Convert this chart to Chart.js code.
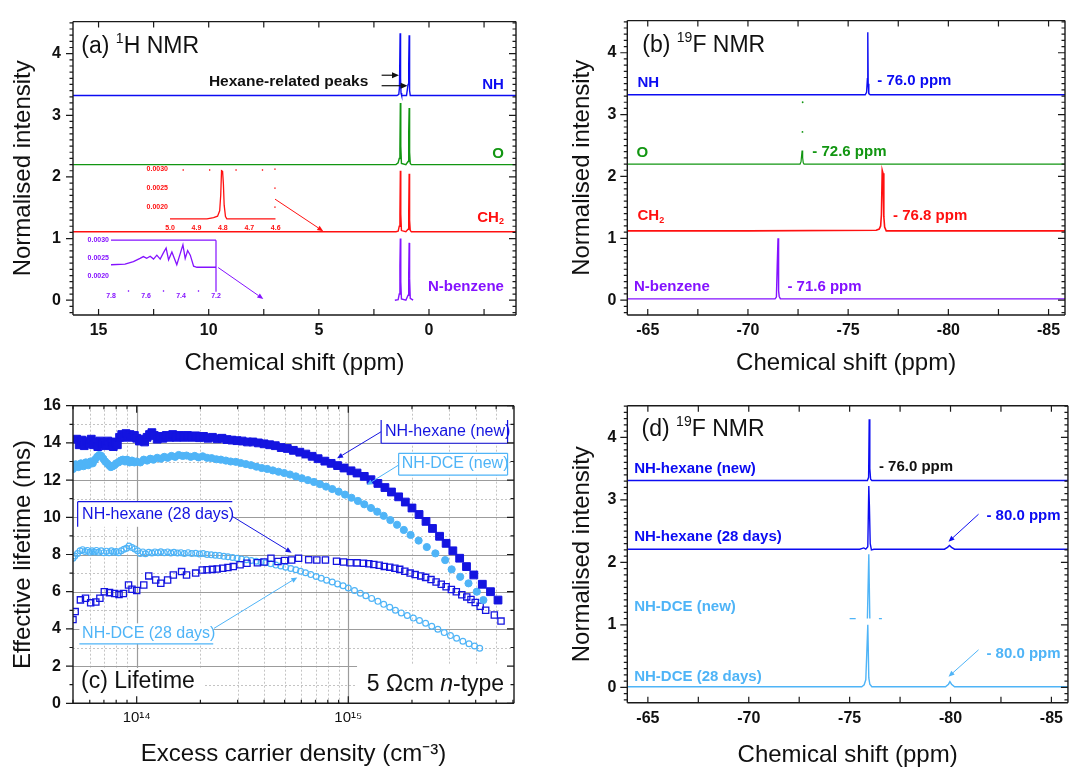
<!DOCTYPE html>
<html>
<head>
<meta charset="utf-8">
<script src="https://cdn.jsdelivr.net/npm/chart.js@4.4.1/dist/chart.umd.min.js"></script>
<style>
  html, body { margin: 0; padding: 0; background: #fff; }
  body { position: relative; width: 1069px; height: 770px; overflow: hidden; }
  canvas { position: absolute; }
</style>
</head>
<body>
<canvas id="pa" width="530" height="380" style="left:0;top:0"></canvas>
<canvas id="pb" width="539" height="380" style="left:530px;top:0"></canvas>
<canvas id="pc" width="530" height="390" style="left:0;top:380px"></canvas>
<canvas id="pd" width="539" height="390" style="left:530px;top:380px"></canvas>
<canvas id="ia"></canvas>
<canvas id="ib"></canvas>
<script>
// ---- tick labels ----
const nmrYTicks = [0, 1, 2, 3, 4];
const hShiftTicks = [15, 10, 5, 0];
const fShiftTicks = [-65, -70, -75, -80, -85];
const lifeTicks = [0, 2, 4, 6, 8, 10, 12, 14, 16];
const densTicks = [1e14, 1e15];
const densTickLabels = ['10¹⁴', '10¹⁵'];
const insetCH2XTicks = [5.0, 4.9, 4.8, 4.7, 4.6];
const insetNBXTicks = [7.8, 7.6, 7.4, 7.2];
const insetYTicks = [0.002, 0.0025, 0.003];

// ---- (a) 1H NMR, offset traces ----
const hNH_ppm = [16.2, 1.45, 1.37, 1.34, 1.31, 1.29, 1.27, 1.24, 1.02, 0.95, 0.92, 0.9, 0.88, 0.85, -4];
const hNH_int = [3.32, 3.32, 3.34, 3.45, 4.33, 3.6, 3.36, 3.32, 3.32, 3.5, 3.85, 4.3, 3.4, 3.32, 3.32];
const hO_ppm = [16.2, 1.5, 1.4, 1.35, 1.32, 1.3, 1.28, 1.25, 1.05, 0.95, 0.92, 0.9, 0.88, 0.85, 0.8, -4];
const hO_int = [2.2, 2.2, 2.23, 2.3, 2.45, 3.2, 2.5, 2.22, 2.2, 2.25, 2.75, 3.12, 2.4, 2.22, 2.2, 2.2];
const hCH2_ppm = [16.2, 1.5, 1.4, 1.35, 1.32, 1.3, 1.28, 1.25, 1.05, 0.95, 0.92, 0.9, 0.88, 0.85, 0.8, -4];
const hCH2_int = [1.11, 1.11, 1.12, 1.2, 1.38, 2.1, 1.4, 1.13, 1.11, 1.15, 1.45, 2.05, 1.3, 1.13, 1.11, 1.11];
const hNB_ppm = [1.55, 1.4, 1.35, 1.32, 1.3, 1.28, 1.25, 1.05, 0.95, 0.92, 0.9, 0.88, 0.85, 0.72];
const hNB_int = [0, 0.01, 0.1, 0.55, 1.0, 0.3, 0.02, 0, 0.08, 0.45, 0.93, 0.35, 0.03, 0];
// insets
const insetCH2_ppm = [5.0, 4.86, 4.835, 4.82, 4.812, 4.808, 4.805, 4.801, 4.798, 4.795, 4.79, 4.785, 4.6];
const insetCH2_int = [0.00169, 0.00169, 0.00172, 0.00176, 0.0019, 0.00232, 0.00296, 0.00294, 0.00262, 0.00205, 0.00175, 0.00169, 0.00169];
const insetNB_ppm = [7.8, 7.72, 7.672, 7.634, 7.615, 7.596, 7.576, 7.557, 7.538, 7.519, 7.5, 7.485, 7.471, 7.452, 7.424, 7.404, 7.389, 7.376, 7.362, 7.347, 7.328, 7.309, 7.2];
const insetNB_int = [0.00231, 0.00233, 0.0024, 0.00249, 0.00254, 0.00249, 0.00255, 0.00247, 0.00258, 0.00247, 0.00265, 0.00278, 0.00245, 0.00267, 0.00231, 0.00263, 0.00287, 0.00249, 0.00271, 0.00258, 0.00227, 0.00224, 0.00224];

// ---- (b) 19F NMR ----
const fNH_ppm = [-64, -75.85, -75.92, -75.96, -75.98, -76.0, -76.03, -76.1, -86];
const fNH_int = [3.32, 3.32, 3.36, 3.58, 4.33, 3.5, 3.34, 3.32, 3.32];
const fO_ppm = [-64, -72.6, -72.65, -72.7, -72.73, -72.76, -72.8, -86];
const fO_int = [2.2, 2.2, 2.24, 2.42, 2.3, 2.22, 2.2, 2.2];
const fODots_ppm = [-72.72, -72.73];
const fODots_int = [2.72, 3.2];
const fCH2_ppm = [-64, -70, -76.4, -76.55, -76.62, -76.66, -76.7, -76.74, -76.78, -76.82, -76.9, -80, -86];
const fCH2_int = [1.12, 1.12, 1.13, 1.15, 1.2, 1.38, 2.1, 2.05, 1.35, 1.18, 1.12, 1.12, 1.12];
const fNB_ppm = [-64, -71.35, -71.42, -71.46, -71.5, -71.53, -71.56, -71.62, -86];
const fNB_int = [0.02, 0.02, 0.05, 0.55, 1.0, 0.15, 0.06, 0.02, 0.02];

// ---- (d) 19F NMR, ageing ----
const dHexNew_ppm = [-64, -75.88, -75.94, -75.97, -76.0, -76.04, -76.1, -86];
const dHexNew_int = [3.31, 3.31, 3.36, 4.29, 3.5, 3.33, 3.31, 3.31];
const dHex28_ppm = [-64, -75.5, -75.7, -75.8, -75.9, -75.95, -75.98, -76.02, -76.08, -76.2, -79.7, -79.85, -79.95, -80.05, -80.2, -86];
const dHex28_int = [2.21, 2.21, 2.23, 2.21, 2.25, 3.22, 2.9, 2.3, 2.2, 2.21, 2.21, 2.24, 2.27, 2.24, 2.21, 2.21];
const dDceNew_ppm = [-75.0, -75.3, -75.31, -75.88, -75.95, -76.0, -76.44, -76.45, -76.6];
const dDceNew_int = [1.1, 1.1, null, 1.1, 2.13, 1.1, null, 1.1, 1.1];
const dDce28_ppm = [-64, -75.6, -75.72, -75.8, -75.85, -75.9, -75.95, -76.0, -76.1, -79.75, -79.9, -79.97, -80.05, -80.2, -86];
const dDce28_int = [0.01, 0.01, 0.04, 0.12, 0.55, 1.0, 0.15, 0.05, 0.01, 0.01, 0.05, 0.09, 0.05, 0.01, 0.01];

// ---- (c) lifetime vs excess carrier density ----
const hexNew_n = [5.2e13, 5.35e13, 5.5e13, 5.65e13, 5.8e13, 5.95e13, 6.1e13, 6.25e13, 6.4e13, 6.55e13,
  6.7e13, 6.85e13, 7.0e13, 7.15e13, 7.3e13, 7.45e13, 7.6e13, 7.75e13, 7.9e13, 8.1e13,
  8.3e13, 8.5e13, 8.7e13, 8.9e13, 9.1e13, 9.3e13, 9.5e13, 9.75e13, 1.0e14, 1.03e14,
  1.06e14, 1.09e14, 1.12e14, 1.15e14, 1.18e14, 1.21e14, 1.25e14, 1.29e14, 1.33e14, 1.38e14,
  1.43e14, 1.48e14, 1.54e14, 1.6e14, 1.67e14, 1.74e14, 1.82e14, 1.9e14, 1.98e14, 2.07e14,
  2.17e14, 2.28e14, 2.4e14, 2.53e14, 2.67e14, 2.82e14, 2.98e14, 3.15e14, 3.34e14, 3.54e14,
  3.76e14, 4.0e14, 4.25e14, 4.52e14, 4.82e14, 5.15e14, 5.5e14, 5.9e14, 6.3e14, 6.75e14,
  7.2e14, 7.75e14, 8.3e14, 8.9e14, 9.55e14, 1.03e15, 1.1e15, 1.19e15, 1.28e15, 1.38e15,
  1.49e15, 1.6e15, 1.73e15, 1.86e15, 2.0e15, 2.16e15, 2.33e15, 2.5e15, 2.7e15, 2.9e15,
  3.12e15, 3.36e15, 3.62e15, 3.92e15, 4.3e15, 4.7e15, 5.1e15];
const hexNew_tau = [14.2, 13.9, 14.15, 13.85, 14.1, 13.95, 14.2, 13.9, 14.05, 13.8,
  14.1, 13.95, 14.0, 13.85, 14.1, 13.9, 14.05, 13.8, 14.0, 13.9,
  14.3, 14.45, 14.3, 14.5, 14.35, 14.45, 14.3, 14.4, 14.25, 14.1,
  14.2, 14.05, 14.3, 14.45, 14.55, 14.4, 14.2, 14.35, 14.25, 14.4,
  14.3, 14.45, 14.3, 14.4, 14.3, 14.4, 14.3, 14.38, 14.28, 14.35,
  14.25, 14.3, 14.22, 14.25, 14.18, 14.15, 14.12, 14.1, 14.05, 14.05,
  14.0, 13.95, 13.9, 13.85, 13.75, 13.7, 13.6, 13.5, 13.4, 13.28,
  13.15, 13.02, 12.9, 12.78, 12.65, 12.5, 12.38, 12.2, 12.02, 11.82,
  11.6, 11.36, 11.1, 10.82, 10.5, 10.15, 9.78, 9.4, 8.98, 8.6,
  8.2, 7.8, 7.35, 6.9, 6.4, 6.0, 5.55];

const dceNew_n = [5.0e13, 5.15e13, 5.3e13, 5.45e13, 5.6e13, 5.75e13, 5.9e13, 6.05e13, 6.2e13, 6.35e13,
  6.5e13, 6.65e13, 6.8e13, 6.95e13, 7.1e13, 7.25e13, 7.4e13, 7.55e13, 7.7e13, 7.85e13,
  8.0e13, 8.2e13, 8.4e13, 8.6e13, 8.8e13, 9.0e13, 9.25e13, 9.5e13, 9.75e13, 1.0e14,
  1.04e14, 1.08e14, 1.12e14, 1.16e14, 1.2e14, 1.25e14, 1.3e14, 1.35e14, 1.4e14, 1.46e14,
  1.52e14, 1.58e14, 1.65e14, 1.72e14, 1.8e14, 1.88e14, 1.96e14, 2.05e14, 2.15e14, 2.26e14,
  2.38e14, 2.5e14, 2.64e14, 2.78e14, 2.94e14, 3.1e14, 3.28e14, 3.47e14, 3.68e14, 3.9e14,
  4.14e14, 4.4e14, 4.68e14, 4.98e14, 5.3e14, 5.65e14, 6.03e14, 6.44e14, 6.88e14, 7.35e14,
  7.85e14, 8.4e14, 9.0e14, 9.65e14, 1.035e15, 1.11e15, 1.19e15, 1.28e15, 1.37e15, 1.47e15,
  1.58e15, 1.7e15, 1.83e15, 1.97e15, 2.15e15, 2.35e15, 2.58e15, 2.87e15, 3.08e15, 3.38e15,
  3.7e15, 4.05e15, 4.35e15];
const dceNew_tau = [12.6, 12.85, 12.7, 12.9, 12.75, 12.95, 12.8, 13.0, 12.9, 13.1,
  13.25, 13.35, 13.3, 13.15, 13.0, 12.9, 12.8, 12.7, 12.75, 12.8,
  12.9, 12.95, 13.05, 13.1, 13.0, 13.1, 12.95, 13.05, 12.95, 13.0,
  12.95, 13.1, 13.05, 13.15, 13.1, 13.2, 13.15, 13.25, 13.2, 13.3,
  13.25, 13.35, 13.3, 13.32, 13.25, 13.3, 13.22, 13.28, 13.2, 13.18,
  13.12, 13.1, 13.05, 13.0, 12.98, 12.92, 12.86, 12.8, 12.72, 12.65,
  12.6, 12.52, 12.45, 12.38, 12.3, 12.2, 12.1, 12.0, 11.9, 11.78,
  11.65, 11.52, 11.38, 11.22, 11.05, 10.88, 10.7, 10.5, 10.3, 10.08,
  9.85, 9.6, 9.32, 9.05, 8.75, 8.4, 8.06, 7.7, 7.2, 6.8,
  6.45, 6.0, 5.55];

const hex28_n = [5.0e13, 5.12e13, 5.42e13, 5.73e13, 6.06e13, 6.41e13, 6.7e13, 7.03e13, 7.44e13, 7.87e13,
  8.25e13, 8.65e13, 9.15e13, 9.5e13, 1.0e14, 1.08e14, 1.14e14, 1.23e14, 1.3e14, 1.4e14,
  1.49e14, 1.63e14, 1.72e14, 1.9e14, 2.04e14, 2.15e14, 2.28e14, 2.4e14, 2.55e14, 2.7e14,
  2.86e14, 3.08e14, 3.32e14, 3.72e14, 4.0e14, 4.31e14, 4.65e14, 5.0e14, 5.4e14, 5.82e14,
  6.5e14, 7.1e14, 7.8e14, 8.8e14, 9.5e14, 1.02e15, 1.1e15, 1.18e15, 1.25e15, 1.32e15,
  1.4e15, 1.48e15, 1.57e15, 1.66e15, 1.75e15, 1.85e15, 1.96e15, 2.07e15, 2.2e15, 2.32e15,
  2.46e15, 2.6e15, 2.75e15, 2.9e15, 3.07e15, 3.24e15, 3.44e15, 3.63e15, 3.8e15, 3.98e15,
  4.2e15, 4.46e15, 4.9e15, 5.27e15];
const hex28_tau = [4.5, 4.93, 5.56, 5.65, 5.4, 5.45, 5.65, 6.0, 5.95, 5.9,
  5.85, 5.9, 6.36, 6.13, 6.06, 6.36, 6.85, 6.63, 6.45, 6.63,
  6.9, 7.08, 6.9, 7.0, 7.17, 7.18, 7.2, 7.22, 7.26, 7.3,
  7.35, 7.45, 7.53, 7.56, 7.6, 7.8, 7.62, 7.68, 7.7, 7.8,
  7.72, 7.7, 7.7, 7.64, 7.6, 7.56, 7.55, 7.53, 7.5, 7.46,
  7.42, 7.36, 7.32, 7.26, 7.2, 7.1, 7.0, 6.92, 6.85, 6.77,
  6.65, 6.52, 6.4, 6.27, 6.12, 6.0, 5.84, 5.72, 5.58, 5.42,
  5.22, 5.0, 4.75, 4.42];

const dce28_n = [5.0e13, 5.1e13, 5.25e13, 5.4e13, 5.55e13, 5.7e13, 5.85e13, 6.0e13, 6.15e13, 6.3e13,
  6.45e13, 6.6e13, 6.8e13, 7.0e13, 7.2e13, 7.4e13, 7.6e13, 7.8e13, 8.0e13, 8.2e13,
  8.45e13, 8.7e13, 8.95e13, 9.2e13, 9.5e13, 9.8e13, 1.01e14, 1.04e14, 1.07e14, 1.1e14,
  1.14e14, 1.18e14, 1.22e14, 1.26e14, 1.3e14, 1.35e14, 1.4e14, 1.45e14, 1.5e14, 1.56e14,
  1.62e14, 1.68e14, 1.75e14, 1.82e14, 1.9e14, 1.98e14, 2.06e14, 2.15e14, 2.25e14, 2.35e14,
  2.46e14, 2.58e14, 2.7e14, 2.84e14, 2.98e14, 3.13e14, 3.3e14, 3.48e14, 3.67e14, 3.87e14,
  4.08e14, 4.3e14, 4.55e14, 4.8e14, 5.06e14, 5.35e14, 5.65e14, 5.95e14, 6.28e14, 6.65e14,
  7.05e14, 7.45e14, 7.9e14, 8.4e14, 8.9e14, 9.45e14, 1.0e15, 1.07e15, 1.14e15, 1.21e15,
  1.29e15, 1.38e15, 1.47e15, 1.57e15, 1.67e15, 1.78e15, 1.9e15, 2.03e15, 2.17e15, 2.32e15,
  2.48e15, 2.65e15, 2.84e15, 3.04e15, 3.25e15, 3.48e15, 3.72e15, 3.95e15, 4.18e15];
const dce28_tau = [7.8, 7.92, 8.05, 8.2, 8.26, 8.16, 8.22, 8.12, 8.2, 8.14,
  8.22, 8.12, 8.2, 8.1, 8.18, 8.1, 8.2, 8.12, 8.16, 8.1,
  8.2, 8.28, 8.33, 8.46, 8.38, 8.3, 8.2, 8.06, 8.14, 8.04,
  8.12, 8.08, 8.14, 8.1, 8.15, 8.1, 8.14, 8.08, 8.12, 8.08,
  8.1, 8.06, 8.1, 8.05, 8.07, 8.03, 8.05, 8.0, 7.98, 7.96,
  7.94, 7.9, 7.88, 7.84, 7.8, 7.76, 7.72, 7.68, 7.64, 7.6,
  7.56, 7.5, 7.43, 7.38, 7.32, 7.25, 7.18, 7.1, 7.02, 6.92,
  6.82, 6.72, 6.62, 6.52, 6.42, 6.32, 6.2, 6.06, 5.92, 5.78,
  5.64, 5.48, 5.32, 5.16, 5.0, 4.86, 4.72, 4.58, 4.45, 4.3,
  4.14, 3.98, 3.8, 3.64, 3.5, 3.34, 3.2, 3.08, 2.96];

// ---- styling ----
const FONT = "'Liberation Sans', Arial, Helvetica, sans-serif";
Chart.defaults.font.family = FONT;
Chart.defaults.color = '#111';

const BLUE = '#0c0cf2', BLUE2 = '#1414e0', GREEN = '#129612', RED = '#ff1010', PURPLE = '#8412ff', SKY = '#4fb4f7';

const pts = (xs, ys) => xs.map((x, i) => ({ x, y: ys[i] }));
const trace = (xs, ys, color, w) => ({
  data: pts(xs, ys), showLine: true, borderColor: color, borderWidth: w || 1.4,
  pointRadius: 0, fill: false, spanGaps: false
});
function steps(a, b, s) {
  const r = [];
  for (let v = a; v <= b + 1e-9; v += s) r.push(+v.toFixed(6));
  return r;
}

function axisX(o) {
  return {
    type: o.type || 'linear', min: o.min, max: o.max, reverse: !!o.reverse, bounds: 'data',
    afterFit: s => { s.height = o.h; },
    afterBuildTicks: s => { s.ticks = o.ticks.map(v => ({ value: v })); },
    grid: { display: false, drawTicks: false }, border: { display: false },
    ticks: { padding: o.pad, color: o.color || '#111', font: o.font || { size: 16, weight: 'bold' },
      callback: o.cb || (v => String(v)), maxRotation: 0, autoSkip: false },
    title: o.title ? { display: true, text: o.title, color: '#111', font: { size: 24 }, padding: { top: 0, bottom: o.tpad } } : { display: false }
  };
}
function axisY(o) {
  return {
    type: 'linear', min: o.min, max: o.max, bounds: 'data',
    afterFit: s => { s.width = o.w; },
    afterBuildTicks: s => { s.ticks = o.ticks.map(v => ({ value: v })); },
    grid: { display: false, drawTicks: false }, border: { display: false },
    ticks: { padding: o.pad, color: o.color || '#111', font: o.font || { size: 16, weight: 'bold' },
      callback: o.cb || (v => String(v)), autoSkip: false },
    title: o.title ? { display: true, text: o.title, color: '#111', font: { size: 24 }, padding: { top: o.tpad, bottom: 0 } } : { display: false }
  };
}
function opts(o) {
  return {
    responsive: false, animation: false, events: [],
    layout: { padding: Object.assign({ top: 0, right: 0, bottom: 0, left: 0 }, o.padding) },
    scales: { x: o.x, y: o.y },
    plugins: { legend: { display: false }, tooltip: { enabled: false } }
  };
}

// frame box and Origin-style tick marks, placed through the chart scales
function makeFrame(f) {
  return {
    id: 'frame',
    afterDraw(chart) {
      const { ctx, chartArea: a, scales: { x, y } } = chart;
      ctx.save();
      ctx.strokeStyle = f.color || '#1a1a1a';
      ctx.lineWidth = f.width || 1.4;
      ctx.beginPath();
      const L = f.lines || '';
      if (L.includes('t')) { ctx.moveTo(a.left, a.top); ctx.lineTo(a.right, a.top); }
      if (L.includes('b')) { ctx.moveTo(a.left, a.bottom); ctx.lineTo(a.right, a.bottom); }
      if (L.includes('l')) { ctx.moveTo(a.left, a.top); ctx.lineTo(a.left, a.bottom); }
      if (L.includes('r')) { ctx.moveTo(a.right, a.top); ctx.lineTo(a.right, a.bottom); }
      ctx.stroke();
      ctx.lineWidth = f.tickWidth || 1.2;
      ctx.beginPath();
      for (const t of f.ticks || []) {
        const horiz = t.side === 't' || t.side === 'b';
        const sc = horiz ? x : y;
        for (const v of t.vals) {
          const p = sc.getPixelForValue(v);
          if (horiz) {
            if (p < a.left - 0.5 || p > a.right + 0.5) continue;
            const y0 = t.side === 't' ? a.top : a.bottom;
            const dir = t.side === 't' ? 1 : -1;
            ctx.moveTo(p, y0); ctx.lineTo(p, y0 + dir * t.len);
          } else {
            if (p < a.top - 0.5 || p > a.bottom + 0.5) continue;
            const x0 = t.side === 'l' ? a.left : a.right;
            const dir = t.side === 'l' ? 1 : -1;
            ctx.moveTo(x0, p); ctx.lineTo(x0 + dir * t.len, p);
          }
        }
      }
      ctx.stroke();
      ctx.restore();
    }
  };
}

// grid for the lifetime panel
function makeGrid(g) {
  return {
    id: 'lgrid',
    beforeDatasetsDraw(chart) {
      const { ctx, chartArea: a, scales: { x, y } } = chart;
      ctx.save();
      const draw = (vals, vertical, color, dash, w) => {
        ctx.strokeStyle = color; ctx.lineWidth = w; ctx.setLineDash(dash);
        ctx.beginPath();
        for (const v of vals) {
          if (vertical) {
            const p = Math.round(x.getPixelForValue(v)) + 0.5;
            if (p <= a.left + 1 || p >= a.right - 1) continue;
            ctx.moveTo(p, a.top); ctx.lineTo(p, a.bottom);
          } else {
            const p = Math.round(y.getPixelForValue(v)) + 0.5;
            if (p <= a.top + 1 || p >= a.bottom - 1) continue;
            ctx.moveTo(a.left, p); ctx.lineTo(a.right, p);
          }
        }
        ctx.stroke();
      };
      draw(g.xMinor, true, '#c4c4c4', [2, 2], 1);
      draw(g.yMinor, false, '#c4c4c4', [2, 2], 1);
      draw(g.xMajor, true, '#9c9c9c', [], 1.2);
      draw(g.yMajor, false, '#9c9c9c', [], 1.2);
      ctx.restore();
    }
  };
}

function drawRich(ctx, x0, y0, n) {
  const size = n.size || 15, weight = n.weight || 'normal';
  const segs = n.parts.map(p => {
    const [t, mode] = Array.isArray(p) ? p : [p, ''];
    const s = (mode === 'sup' || mode === 'sub') ? Math.round(size * 0.62) : size;
    const font = (mode === 'it' ? 'italic ' : '') + weight + ' ' + s + 'px ' + FONT;
    ctx.font = font;
    return { t, mode, font, w: ctx.measureText(t).width };
  });
  const total = segs.reduce((acc, s) => acc + s.w, 0);
  let x = n.align === 'right' ? x0 - total : x0;
  ctx.fillStyle = n.color || '#111';
  ctx.textAlign = 'left';
  ctx.textBaseline = 'middle';
  for (const s of segs) {
    ctx.font = s.font;
    const dy = s.mode === 'sup' ? -size * 0.32 : s.mode === 'sub' ? size * 0.28 : 0;
    ctx.fillText(s.t, x, y0 + dy);
    x += s.w;
  }
}
function drawArrow(ctx, x1, y1, x2, y2, color, lw, head) {
  const ang = Math.atan2(y2 - y1, x2 - x1);
  const hx = x2 - head * Math.cos(ang), hy = y2 - head * Math.sin(ang);
  ctx.strokeStyle = color; ctx.fillStyle = color; ctx.lineWidth = lw;
  ctx.beginPath(); ctx.moveTo(x1, y1); ctx.lineTo(hx, hy); ctx.stroke();
  const hw = head * 0.42;
  ctx.beginPath();
  ctx.moveTo(x2, y2);
  ctx.lineTo(hx - hw * Math.sin(ang), hy + hw * Math.cos(ang));
  ctx.lineTo(hx + hw * Math.sin(ang), hy - hw * Math.cos(ang));
  ctx.closePath(); ctx.fill();
}
// labels, arrows and boxes given in data units
function makeNotes(items) {
  return {
    id: 'notes',
    afterDatasetsDraw(chart) {
      const { ctx, scales: { x, y } } = chart;
      const px = v => x.getPixelForValue(v), py = v => y.getPixelForValue(v);
      ctx.save();
      for (const n of items) {
        if (n.type === 'box') {
          const l = px(n.x1), r = px(n.x2), t = py(n.y1), b = py(n.y2);
          if (n.fill) { ctx.fillStyle = n.fill; ctx.fillRect(l, t, r - l, b - t); }
          const S = n.sides || '';
          if (S) {
            ctx.strokeStyle = n.color; ctx.lineWidth = n.lw || 1.2;
            ctx.beginPath();
            if (S.includes('t')) { ctx.moveTo(l, t); ctx.lineTo(r, t); }
            if (S.includes('b')) { ctx.moveTo(l, b); ctx.lineTo(r, b); }
            if (S.includes('l')) { ctx.moveTo(l, t); ctx.lineTo(l, b); }
            if (S.includes('r')) { ctx.moveTo(r, t); ctx.lineTo(r, b); }
            ctx.stroke();
          }
        } else if (n.type === 'arrow') {
          drawArrow(ctx, px(n.x1), py(n.y1), px(n.x2), py(n.y2), n.color || '#111', n.lw || 1.1, n.head || 7);
        } else {
          drawRich(ctx, px(n.x), py(n.y), n);
        }
      }
      ctx.restore();
    }
  };
}

function nmrFrame(xt) {
  const minor = steps(-0.2, 4.5, 0.1);
  return {
    lines: 'tblr', ticks: [
      { side: 'l', vals: minor, len: -3.5 }, { side: 'l', vals: nmrYTicks, len: -7 },
      { side: 'r', vals: minor, len: 3.5 }, { side: 'r', vals: nmrYTicks, len: 7 },
      { side: 't', vals: xt, len: 6 }, { side: 'b', vals: xt, len: 6 }
    ]
  };
}

const lbl = { size: 15, weight: 'bold' };

// ---------- (a) ----------
new Chart(document.getElementById('pa'), {
  type: 'scatter',
  data: { datasets: [
    trace(hNH_ppm, hNH_int, BLUE),
    trace(hO_ppm, hO_int, GREEN),
    trace(hCH2_ppm, hCH2_int, RED),
    trace(hNB_ppm, hNB_int, PURPLE)
  ] },
  options: opts({
    padding: { top: 17, right: 14 },
    x: axisX({ min: -3.95, max: 16.16, reverse: true, h: 65, ticks: hShiftTicks, pad: 6, title: 'Chemical shift (ppm)', tpad: 2 }),
    y: axisY({ min: -0.24, max: 4.52, w: 73, ticks: nmrYTicks, pad: 12, title: 'Normalised intensity', tpad: 8.6 })
  }),
  plugins: [makeFrame(nmrFrame(steps(-2.5, 15, 2.5))), makeNotes([
    { x: 15.78, y: 4.11, parts: ['(a) ', ['1', 'sup'], 'H NMR'], size: 23 },
    { x: 9.99, y: 3.55, parts: ['Hexane-related peaks'], size: 15.5, weight: 'bold' },
    { type: 'arrow', x1: 2.15, y1: 3.65, x2: 1.36, y2: 3.65, color: '#111', lw: 1.2, head: 7 },
    { type: 'arrow', x1: 2.15, y1: 3.48, x2: 0.97, y2: 3.48, color: '#111', lw: 1.2, head: 7 },
    Object.assign({ x: -3.4, y: 3.5, parts: ['NH'], color: BLUE, align: 'right' }, lbl),
    Object.assign({ x: -3.4, y: 2.37, parts: ['O'], color: GREEN, align: 'right' }, lbl),
    Object.assign({ x: -3.4, y: 1.34, parts: ['CH', ['2', 'sub']], color: RED, align: 'right' }, lbl),
    Object.assign({ x: -3.4, y: 0.21, parts: ['N-benzene'], color: PURPLE, align: 'right' }, lbl),
    { type: 'arrow', x1: 6.99, y1: 1.64, x2: 4.8, y2: 1.12, color: RED, lw: 1, head: 6 },
    { type: 'arrow', x1: 9.57, y1: 0.53, x2: 7.52, y2: 0.02, color: PURPLE, lw: 1, head: 6 }
  ])]
});

// insets of panel (a)
function inset(id, box, color, xs, ys, xo, yo, frame) {
  const c = document.getElementById(id);
  const W = 40, H = 14, PT = 4, PR = 8;
  c.width = Math.round(box.r - box.l + W + PR);
  c.height = Math.round(box.b - box.t + PT + H);
  c.style.left = (box.l - W) + 'px';
  c.style.top = (box.t - PT) + 'px';
  const f = { size: 7, weight: 'bold' };
  new Chart(c, {
    type: 'scatter',
    data: { datasets: [trace(xs, ys, color, 1.3)] },
    options: opts({
      padding: { top: PT, right: c.width - W - (box.r - box.l) },
      x: axisX({ min: xo.min, max: xo.max, reverse: true, h: c.height - PT - (box.b - box.t), ticks: xo.ticks, pad: xo.pad, color, font: f, cb: v => v.toFixed(1) }),
      y: axisY({ min: yo.min, max: yo.max, w: W, ticks: insetYTicks, pad: 2, color, font: f, cb: v => v.toFixed(4) })
    }),
    plugins: [makeFrame(Object.assign({ color, width: 1.2, tickWidth: 1.3 }, frame))]
  });
}
inset('ia', { l: 169.8, r: 275.5, t: 167.3, b: 222.5 }, RED, insetCH2_ppm, insetCH2_int,
  { min: 4.6, max: 5.0, ticks: insetCH2XTicks, pad: 1.3 }, { min: 0.0016, max: 0.003 },
  { lines: '', ticks: [{ side: 't', vals: [4.95, 4.85, 4.75, 4.65], len: 1.5 }, { side: 'r', vals: insetYTicks, len: 1.5 }] });
inset('ib', { l: 110.9, r: 215.9, t: 237.7, b: 291.5 }, PURPLE, insetNB_ppm, insetNB_int,
  { min: 7.2, max: 7.8, ticks: insetNBXTicks, pad: 0.3 }, { min: 0.00155, max: 0.003 },
  { lines: 'tr', ticks: [{ side: 'b', vals: [7.7, 7.5, 7.3], len: 1.5 }] });

// ---------- (b) ----------
new Chart(document.getElementById('pb'), {
  type: 'scatter',
  data: { datasets: [
    trace(fNH_ppm, fNH_int, BLUE),
    trace(fO_ppm, fO_int, GREEN, 1.2),
    { data: pts(fODots_ppm, fODots_int), pointRadius: 0.9, backgroundColor: GREEN, borderWidth: 0 },
    trace(fCH2_ppm, fCH2_int, RED, 1.6),
    trace(fNB_ppm, fNB_int, PURPLE)
  ] },
  options: opts({
    padding: { top: 17, right: 1 },
    x: axisX({ min: -85.82, max: -63.98, reverse: true, h: 65, ticks: fShiftTicks, pad: 6, title: 'Chemical shift (ppm)', tpad: 2.3 }),
    y: axisY({ min: -0.24, max: 4.52, w: 97.3, ticks: nmrYTicks, pad: 11, title: 'Normalised intensity', tpad: 38 })
  }),
  plugins: [makeFrame(nmrFrame(steps(-85, -65, 2.5))), makeNotes([
    { x: -64.73, y: 4.11, parts: ['(b) ', ['19', 'sup'], 'F NMR'], size: 23 },
    Object.assign({ x: -64.49, y: 3.52, parts: ['NH'], color: BLUE }, lbl),
    Object.assign({ x: -76.45, y: 3.55, parts: ['- 76.0 ppm'], color: BLUE }, lbl),
    Object.assign({ x: -64.44, y: 2.38, parts: ['O'], color: GREEN }, lbl),
    Object.assign({ x: -73.21, y: 2.39, parts: ['- 72.6 ppm'], color: GREEN }, lbl),
    Object.assign({ x: -64.49, y: 1.36, parts: ['CH', ['2', 'sub']], color: RED }, lbl),
    Object.assign({ x: -77.24, y: 1.36, parts: ['- 76.8 ppm'], color: RED }, lbl),
    Object.assign({ x: -64.31, y: 0.21, parts: ['N-benzene'], color: PURPLE }, lbl),
    Object.assign({ x: -71.97, y: 0.21, parts: ['- 71.6 ppm'], color: PURPLE }, lbl)
  ])]
});

// ---------- (c) ----------
const logMinor = [];
for (const d of [13, 14, 15]) for (let m = 2; m <= 9; m++) logMinor.push(m * Math.pow(10, d));
new Chart(document.getElementById('pc'), {
  type: 'scatter',
  data: { datasets: [
    { label: 'NH-hexane (new)', data: pts(hexNew_n, hexNew_tau), pointStyle: 'rect', pointRadius: 5.5,
      backgroundColor: BLUE2, borderColor: BLUE2, borderWidth: 1 },
    { label: 'NH-DCE (new)', data: pts(dceNew_n, dceNew_tau), pointStyle: 'circle', pointRadius: 3.6,
      backgroundColor: SKY, borderColor: SKY, borderWidth: 1 },
    { label: 'NH-hexane (28 days)', data: pts(hex28_n, hex28_tau), pointStyle: 'rect', pointRadius: 4.4,
      backgroundColor: 'rgba(0,0,0,0)', borderColor: BLUE2, borderWidth: 1.3 },
    { label: 'NH-DCE (28 days)', data: pts(dce28_n, dce28_tau), pointStyle: 'circle', pointRadius: 2.9,
      backgroundColor: 'rgba(0,0,0,0)', borderColor: SKY, borderWidth: 1.2 }
  ] },
  options: opts({
    padding: { top: 25.7, right: 16 },
    x: axisX({ type: 'logarithmic', min: 5e13, max: 6.07e15, h: 66.7, ticks: densTicks, pad: 6,
      font: { size: 15 }, cb: (v, i) => densTickLabels[i], title: 'Excess carrier density (cm⁻³)', tpad: 1.6 }),
    y: axisY({ min: 0, max: 16, w: 73, ticks: lifeTicks, pad: 12, title: 'Effective lifetime (ms)', tpad: 8.8 })
  }),
  plugins: [
    makeGrid({ xMajor: densTicks, xMinor: logMinor, yMajor: lifeTicks, yMinor: steps(1, 15, 2) }),
    makeFrame({ lines: 'tblr', ticks: [
      { side: 'l', vals: steps(1, 15, 2), len: -3.5 }, { side: 'l', vals: lifeTicks, len: -7 },
      { side: 'r', vals: steps(1, 15, 2), len: 3.5 }, { side: 'r', vals: lifeTicks, len: 7 },
      { side: 't', vals: logMinor, len: 3.5 }, { side: 't', vals: densTicks, len: 7 },
      { side: 'b', vals: logMinor, len: 3.5 }, { side: 'b', vals: densTicks, len: 7 }
    ] }),
    makeNotes([
      { type: 'box', x1: 1.43e15, y1: 15.23, x2: 5.66e15, y2: 13.98, sides: 'lrb', color: BLUE2, fill: '#fff' },
      { x: 1.49e15, y: 14.6, parts: ['NH-hexane (new)'], color: BLUE2, size: 16 },
      { type: 'arrow', x1: 1.43e15, y1: 14.6, x2: 8.85e14, y2: 13.17, color: BLUE2, lw: 1, head: 6 },
      { type: 'box', x1: 1.73e15, y1: 13.44, x2: 5.66e15, y2: 12.27, sides: 'tlrb', color: SKY, fill: '#fff' },
      { x: 1.79e15, y: 12.87, parts: ['NH-DCE (new)'], color: SKY, size: 16 },
      { type: 'arrow', x1: 1.73e15, y1: 12.81, x2: 1.22e15, y2: 11.74, color: SKY, lw: 1, head: 6 },
      { type: 'box', x1: 5.26e13, y1: 10.84, x2: 2.83e14, y2: 9.49, sides: 'tl', color: BLUE2, fill: '#fff' },
      { x: 5.52e13, y: 10.12, parts: ['NH-hexane (28 days)'], color: BLUE2, size: 16 },
      { type: 'arrow', x1: 2.83e14, y1: 10.05, x2: 5.4e14, y2: 8.1, color: BLUE2, lw: 1, head: 6 },
      { type: 'box', x1: 5.36e13, y1: 4.3, x2: 2.3e14, y2: 3.19, sides: 'b', color: SKY, fill: '#fff' },
      { x: 5.52e13, y: 3.73, parts: ['NH-DCE (28 days)'], color: SKY, size: 16 },
      { type: 'arrow', x1: 2.32e14, y1: 4.03, x2: 5.74e14, y2: 6.77, color: SKY, lw: 1, head: 6 },
      { type: 'box', x1: 5e13, y1: 1.9, x2: 2.1e14, y2: 0, fill: '#fff' },
      { x: 5.46e13, y: 1.16, parts: ['(c) Lifetime'], size: 23 },
      { type: 'box', x1: 1.1e15, y1: 2.1, x2: 6.07e15, y2: 0, fill: '#fff' },
      { x: 5.45e15, y: 0.98, parts: ['5 Ωcm ', ['n', 'it'], '-type'], size: 23, align: 'right' }
    ])
  ]
});

// ---------- (d) ----------
new Chart(document.getElementById('pd'), {
  type: 'scatter',
  data: { datasets: [
    trace(dHexNew_ppm, dHexNew_int, BLUE),
    trace(dHex28_ppm, dHex28_int, BLUE),
    trace(dDceNew_ppm, dDceNew_int, SKY),
    trace(dDce28_ppm, dDce28_int, SKY)
  ] },
  options: opts({
    padding: { top: 25.7, right: 1 },
    x: axisX({ min: -85.82, max: -63.98, reverse: true, h: 67.3, ticks: fShiftTicks, pad: 6, title: 'Chemical shift (ppm)', tpad: 0.6 }),
    y: axisY({ min: -0.246, max: 4.506, w: 97.3, ticks: nmrYTicks, pad: 11, title: 'Normalised intensity', tpad: 38 })
  }),
  plugins: [makeFrame(nmrFrame(steps(-85, -65, 2.5))), makeNotes([
    { x: -64.69, y: 4.12, parts: ['(d) ', ['19', 'sup'], 'F NMR'], size: 23 },
    Object.assign({ x: -64.32, y: 3.5, parts: ['NH-hexane (new)'], color: BLUE }, lbl),
    Object.assign({ x: -76.45, y: 3.52, parts: ['- 76.0 ppm'], color: '#111' }, lbl),
    Object.assign({ x: -64.32, y: 2.41, parts: ['NH-hexane (28 days)'], color: BLUE }, lbl),
    Object.assign({ x: -81.78, y: 2.74, parts: ['- 80.0 ppm'], color: BLUE }, lbl),
    { type: 'arrow', x1: -81.39, y1: 2.77, x2: -79.9, y2: 2.33, color: BLUE, lw: 1, head: 6 },
    Object.assign({ x: -64.32, y: 1.28, parts: ['NH-DCE (new)'], color: SKY }, lbl),
    Object.assign({ x: -64.32, y: 0.16, parts: ['NH-DCE (28 days)'], color: SKY }, lbl),
    Object.assign({ x: -81.78, y: 0.54, parts: ['- 80.0 ppm'], color: SKY }, lbl),
    { type: 'arrow', x1: -81.39, y1: 0.6, x2: -79.9, y2: 0.17, color: SKY, lw: 1, head: 6 }
  ])]
});
</script>
</body>
</html>
